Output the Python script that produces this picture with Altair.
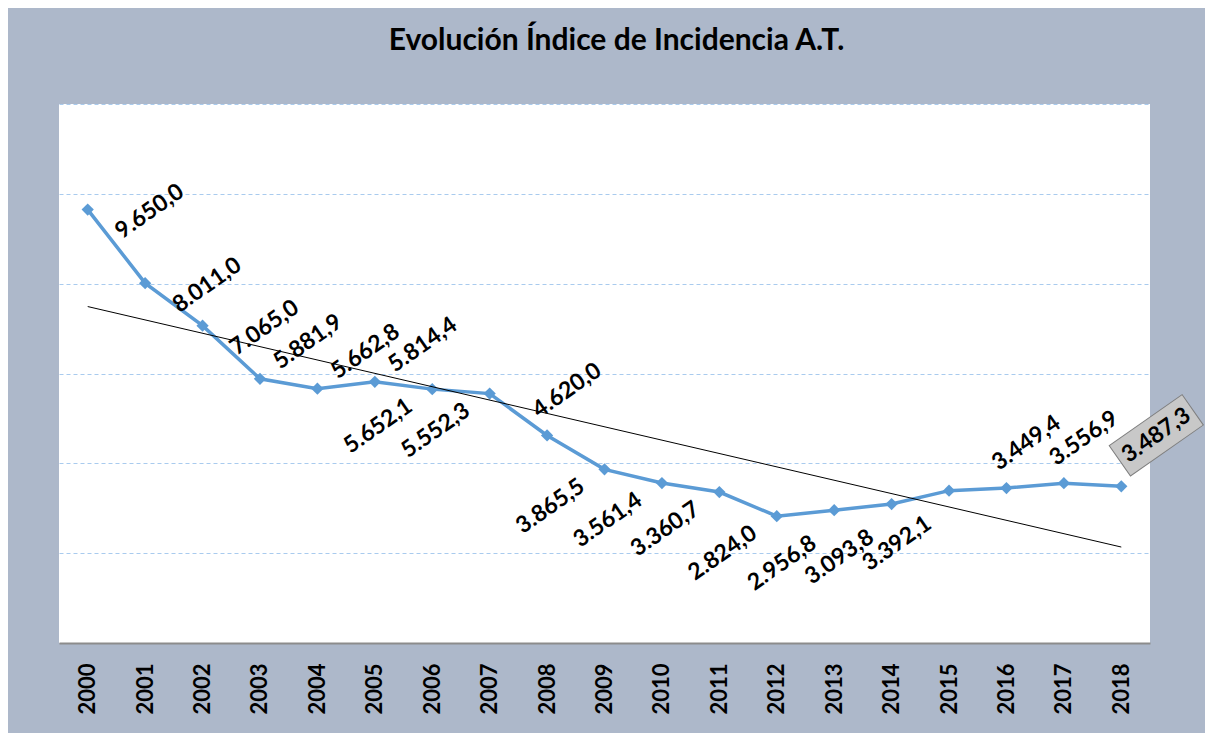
import altair as alt
import pandas as pd

# ---- data ----
years = list(range(2000, 2019))
values = [9650.0, 8011.0, 7065.0, 5881.9, 5662.8, 5814.4, 5652.1, 5552.3, 4620.0,
          3865.5, 3561.4, 3360.7, 2824.0, 2956.8, 3093.8, 3392.1, 3449.4, 3556.9, 3487.3]
# data-label placement (as chosen in the original chart)
label_place = ["right", "right", "right", "upright", "upright", "upright", "below", "below",
               "above", "below", "below", "below", "below", "lowbelow", "lowbelow", "lowbelow",
               "above", "above", "above"]
boxed_year = 2018
grid_values = [2000, 4000, 6000, 8000, 10000, 12000]


def es_format(v):
    s = f"{v:,.1f}"
    return s.replace(",", "X").replace(".", ",").replace("X", ".")


df = pd.DataFrame({
    "year": years,
    "value": values,
    "label": [es_format(v) for v in values],
    "place": label_place,
})

FONT = "Lato"
BLUE = "#5b9bd5"
LABEL_SIZE = 23

x = alt.X("year:Q",
          scale=alt.Scale(domain=[1999.5, 2018.5], nice=False, zero=False),
          axis=alt.Axis(values=years, format="d", labelAngle=270, labelFont=FONT,
                        labelFontSize=22, labelFontWeight="bold", labelColor="black",
                        labelPadding=20, ticks=False, grid=False, domainColor="#8c8c8c",
                        domainWidth=2, labelOverlap=False, title=None))
y = alt.Y("value:Q",
          scale=alt.Scale(domain=[0, 12000], nice=False),
          axis=alt.Axis(values=grid_values, grid=True, labels=False, ticks=False,
                        domain=False, gridDash=[4, 3], gridColor="#a9cbee",
                        gridWidth=1, title=None))

base = alt.Chart(df).encode(x=x, y=y)

line = base.mark_line(color=BLUE, strokeWidth=3.5,
                      point=alt.OverlayMarkDef(shape="diamond", size=150, filled=True,
                                               color=BLUE, opacity=1))

trend = base.transform_regression("year", "value", method="linear").mark_line(
    color="black", strokeWidth=1)

offsets = {
    "right": (62, 2),
    "upright": (48, -37),
    "above": (20, -45),
    "below": (-54, 37),
    "lowbelow": (-52, 53),
}
box_offset = (35, -51)

box = base.transform_filter(alt.datum.year == boxed_year).mark_point(
    shape="M-1,-0.416L1,-0.416L1,0.416L-1,0.416Z", size=7921, angle=325,
    filled=True, fill="#c8c8c8", stroke="#7f7f7f", strokeWidth=1, opacity=1,
    xOffset=box_offset[0], yOffset=box_offset[1])

text_style = dict(font=FONT, fontSize=LABEL_SIZE, fontWeight="bold", color="black",
                  angle=325, align="center", baseline="middle")

label_layers = []
for place, (dx, dy) in offsets.items():
    label_layers.append(
        base.transform_filter((alt.datum.place == place) & (alt.datum.year != boxed_year))
        .mark_text(xOffset=dx, yOffset=dy, **text_style)
        .encode(text="label:N"))

boxed_label = base.transform_filter(alt.datum.year == boxed_year).mark_text(
    xOffset=box_offset[0], yOffset=box_offset[1], **text_style).encode(text="label:N")

chart = alt.layer(line, trend, *label_layers, box, boxed_label).properties(
    width=1091, height=539,
    title=alt.TitleParams("Evolución Índice de Incidencia A.T.", font=FONT, fontSize=30,
                          fontWeight="bold", color="black", anchor="middle", dx=12,
                          offset=48),
    autosize=alt.AutoSizeParams(type="none"),
    padding={"left": 51, "top": 96, "right": 55, "bottom": 90},
    background="#adb8ca",
).configure_view(fill="white", stroke=None)

chart.save("out.html", embed_options={"renderer": "svg", "actions": False})
